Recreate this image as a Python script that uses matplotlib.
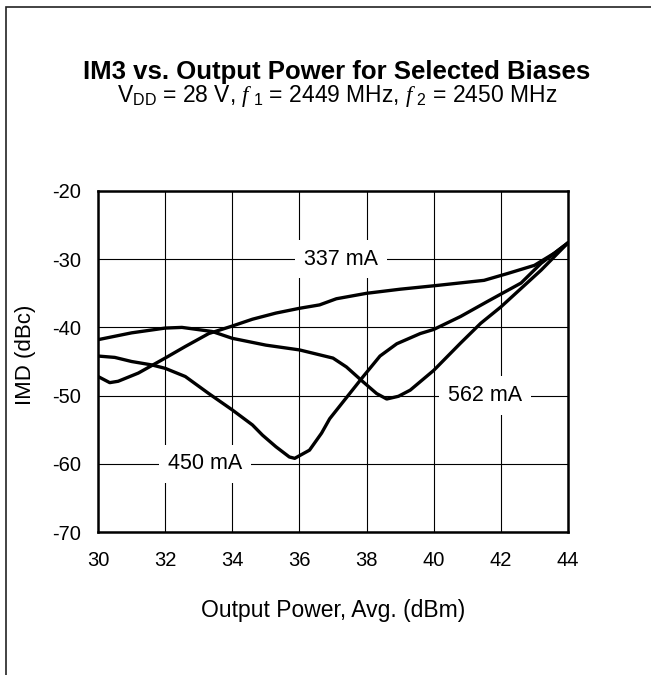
import matplotlib
matplotlib.use("Agg")
import matplotlib.pyplot as plt
from matplotlib.patches import Rectangle

plt.rcParams["font.family"] = ["Liberation Sans", "DejaVu Sans"]
plt.rcParams["axes.unicode_minus"] = False
plt.rcParams["mathtext.fontset"] = "custom"
plt.rcParams["mathtext.rm"] = "Liberation Sans"
plt.rcParams["mathtext.it"] = "Liberation Serif:italic"

# -------------------------
# Data
# -------------------------
x_337 = [30.0, 30.35, 30.6, 31.2, 32.0, 32.6, 33.3, 34.0, 34.6, 35.3, 36.0,
         36.6, 37.1, 38.0, 39.0, 40.0, 41.5, 42.2, 43.0, 43.6, 44.0]
y_337 = [-47.2, -48.1, -47.9, -46.7, -44.5, -42.8, -40.9, -39.8, -38.8, -37.9, -37.2,
         -36.7, -35.8, -35.0, -34.4, -33.9, -33.1, -32.1, -30.9, -29.1, -27.6]

x_450 = [30.0, 30.5, 31.0, 31.6, 32.0, 32.6, 33.3, 34.0, 34.6, 34.9, 35.3, 35.7,
         35.86, 36.3, 36.66, 36.9, 37.9, 38.4, 38.9, 39.6, 40.0, 40.8, 41.6,
         42.6, 43.2, 44.0]
y_450 = [-44.2, -44.4, -45.0, -45.5, -46.0, -47.2, -49.7, -52.1, -54.3, -55.8, -57.5, -59.0,
         -59.2, -58.0, -55.5, -53.4, -47.2, -44.2, -42.4, -40.9, -40.3, -38.4, -36.2,
         -33.5, -30.6, -27.6]

x_562 = [30.0, 31.0, 32.0, 32.5, 33.4, 34.0, 35.0, 36.0, 37.0, 37.4, 37.9, 38.3,
         38.6, 38.95, 39.3, 40.0, 40.8, 41.4, 42.0, 42.6, 43.2, 44.0]
y_562 = [-41.8, -40.8, -40.1, -40.0, -40.6, -41.6, -42.6, -43.3, -44.5, -45.8, -48.0, -49.7,
         -50.5, -50.1, -49.2, -46.3, -42.3, -39.4, -37.0, -34.3, -31.6, -27.6]

labels = ["337 mA", "450 mA", "562 mA"]
label_x = [37.24, 33.19, 41.53]
label_y = [-30, -60, -50]

x_ticks = [30, 32, 34, 36, 38, 40, 42, 44]
y_ticks = [-70, -60, -50, -40, -30, -20]

# -------------------------
# Figure
# -------------------------
fig = plt.figure(figsize=(6.51, 6.75), dpi=100)

# outer frame (runs off the right/bottom edge like the original)
fig.patches.append(Rectangle((5.5 / 651, -0.1), 1.2, 1 - 7.5 / 675 + 0.1,
                             transform=fig.transFigure, fill=False,
                             edgecolor="#222222", linewidth=1.2))

ax = fig.add_axes([98 / 651, 1 - 532 / 675, 470 / 651, 341 / 675])

for xs, ys in [(x_337, y_337), (x_450, y_450), (x_562, y_562)]:
    ax.plot(xs, ys, color="black", linewidth=2.4, zorder=4,
            solid_joinstyle="round", solid_capstyle="round")

for lab, lx, ly in zip(labels, label_x, label_y):
    ax.text(lx, ly, lab, ha="center", va="center", fontsize=15.5, zorder=3,
            bbox=dict(boxstyle="square,pad=0.4", facecolor="white", edgecolor="none"))

ax.set_xlim(30, 44)
ax.set_ylim(-70, -20)
ax.set_xticks(x_ticks)
ax.set_yticks(y_ticks)
ax.grid(True, color="black", linewidth=0.8, zorder=1)
ax.set_axisbelow(True)
ax.tick_params(length=0, labelsize=14.5)
ax.tick_params(axis="y", pad=12)
ax.tick_params(axis="x", pad=14)
for sp in ax.spines.values():
    sp.set_linewidth(1.8)

ax.set_xlabel("Output Power, Avg. (dBm)", fontsize=16.5)
ax.xaxis.set_label_coords(0.5, (532 - 610) / 341)
ax.xaxis.label.set_va("center")
ax.set_ylabel("IMD (dBc)", fontsize=16)
ax.yaxis.set_label_coords((25 - 98) / 470, 0.52)
ax.yaxis.label.set_va("center")

fig.text(337 / 651, 1 - 79 / 675, "IM3 vs. Output Power for Selected Biases",
         ha="center", va="baseline", fontsize=18.5, fontweight="bold")
fig.text(337 / 651, 1 - 102 / 675,
         r"V$_{\mathrm{DD}}$ = 28 V, $f\;$$_{\mathrm{1}}$ = 2449 MHz, $f\;$$_{\mathrm{2}}$ = 2450 MHz",
         ha="center", va="baseline", fontsize=16.5)

fig.savefig("out.png", dpi=100)
